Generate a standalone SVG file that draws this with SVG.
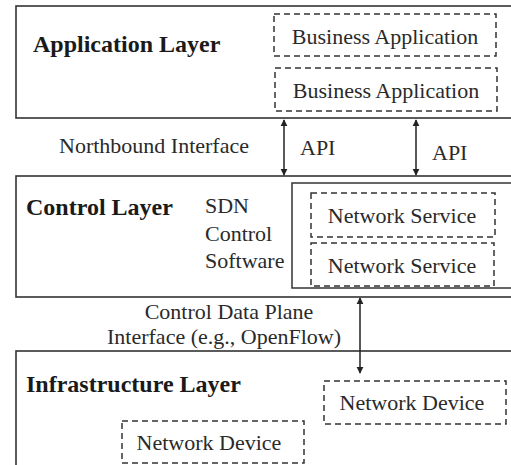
<svg xmlns="http://www.w3.org/2000/svg" width="511" height="465" viewBox="0 0 511 465">
<style>
.layer{fill:#fff;stroke:#333;stroke-width:1.6}
.dash{fill:#fff;stroke:#333;stroke-width:1.5;stroke-dasharray:6,4}
.solid{fill:#fff;stroke:#333;stroke-width:1.5}
text{font-family:'Liberation Serif','DejaVu Serif',serif}
.t{font-size:22px;fill:#2a2a2a}
.b{font-size:24px;font-weight:bold;fill:#1a1a1a}
.conn{stroke:#222;stroke-width:1.5;fill:none}
</style>
<defs>
<marker id="ah" viewBox="0 0 10 10" refX="9" refY="5" markerWidth="7" markerHeight="8" markerUnits="userSpaceOnUse" orient="auto-start-reverse">
<path d="M0,0 L10,5 L0,10 z" fill="#222"/>
</marker>
</defs>
<rect width="511" height="465" fill="#fff"/>
<g id="application-layer">
<rect class="layer" x="16" y="6" width="510" height="112"/>
<text class="b" x="33" y="52">Application Layer</text>
</g>
<g id="business-app-1">
<rect class="dash" x="274" y="14" width="222" height="42"/>
<text class="t" x="385" y="44" text-anchor="middle">Business Application</text>
</g>
<g id="business-app-2">
<rect class="dash" x="275" y="68" width="222" height="43"/>
<text class="t" x="386" y="98" text-anchor="middle">Business Application</text>
</g>
<g id="control-layer">
<rect class="layer" x="16" y="176" width="510" height="121"/>
<text class="b" x="26" y="215">Control Layer</text>
<text class="t" x="205" y="213">SDN</text>
<text class="t" x="205" y="241">Control</text>
<text class="t" x="205" y="268">Software</text>
</g>
<g id="service-container">
<rect class="solid" x="292" y="183" width="226" height="105"/>
</g>
<g id="network-service-1">
<rect class="dash" x="311" y="193" width="184" height="44"/>
<text class="t" x="402" y="223" text-anchor="middle">Network Service</text>
</g>
<g id="network-service-2">
<rect class="dash" x="311" y="243" width="183" height="43"/>
<text class="t" x="402" y="273" text-anchor="middle">Network Service</text>
</g>
<g id="infrastructure-layer">
<rect class="layer" x="16" y="351" width="510" height="130"/>
<text class="b" x="26" y="392">Infrastructure Layer</text>
</g>
<g id="network-device-1">
<rect class="dash" x="324" y="381" width="182" height="43"/>
<text class="t" x="412" y="410" text-anchor="middle">Network Device</text>
</g>
<g id="network-device-2">
<rect class="dash" x="122" y="421" width="182" height="42"/>
<text class="t" x="209" y="450" text-anchor="middle">Network Device</text>
</g>
<g id="connectors">
<line class="conn" x1="284" y1="120" x2="284" y2="175" marker-start="url(#ah)" marker-end="url(#ah)"/>
<line class="conn" x1="416" y1="120" x2="416" y2="175" marker-start="url(#ah)" marker-end="url(#ah)"/>
<line class="conn" x1="360" y1="298" x2="360" y2="373" marker-start="url(#ah)" marker-end="url(#ah)"/>
<text class="t" x="59" y="153">Northbound Interface</text>
<text class="t" x="300" y="155">API</text>
<text class="t" x="432" y="160">API</text>
<text class="t" x="229" y="319" text-anchor="middle">Control Data Plane</text>
<text class="t" x="224" y="344" text-anchor="middle">Interface (e.g., OpenFlow)</text>
</g>
</svg>
